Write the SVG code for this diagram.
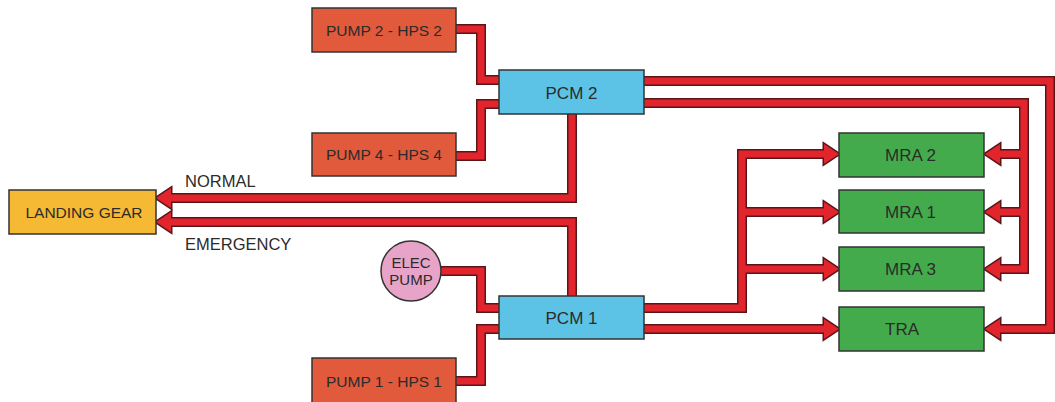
<svg xmlns="http://www.w3.org/2000/svg" width="1055" height="402" viewBox="0 0 1055 402">
<style>
.o{fill:none;stroke:#5a1518;stroke-width:10;stroke-linejoin:miter}
.f{fill:none;stroke:#e2252c;stroke-width:7;stroke-linejoin:miter}
.o .a{marker-end:url(#ao)}
.f .a{marker-end:url(#af)}
.box{stroke:#333;stroke-width:1.5}
.pump{fill:#e15a3b}
.pcm{fill:#5cc3e6}
.mra{fill:#43ab4b}
.lg{fill:#f6b934}
.elec{fill:#e7a4c8}
text{font-family:"Liberation Sans",Arial,sans-serif;fill:#2b2b2b}
.t{font-size:15.5px;text-anchor:middle}
.tl{font-size:17px;text-anchor:middle}
.tg{font-size:17px}
.lab{font-size:16.5px}
</style>
<defs>
<marker id="ao" markerUnits="userSpaceOnUse" viewBox="-5 -15 25 30" refX="0" refY="0" markerWidth="25" markerHeight="30" orient="auto" overflow="visible">
<polygon points="0,-10 15,0 0,10" fill="#5a1518" stroke="#5a1518" stroke-width="3"/>
</marker>
<marker id="af" markerUnits="userSpaceOnUse" viewBox="-5 -15 25 30" refX="0" refY="0" markerWidth="25" markerHeight="30" orient="auto" overflow="visible">
<polygon points="0,-10 15,0 0,10" fill="#e2252c"/>
</marker>
</defs>
<g id="connectors">
<g class="o">
<path d="M456,29 H481 V80 H500"/>
<path d="M456,156 H481 V104 H500"/>
<path class="a" d="M572,113 V198 H171"/>
<path class="a" d="M572,297 V222 H171"/>
<path d="M440,271 H481 V308 H500"/>
<path d="M456,381 H481 V329 H500"/>
<path class="a" d="M643,81 H1050 V329 H1000"/>
<path class="a" d="M643,103 H1024 V269 H1000"/>
<path class="a" d="M1024,154 H1000"/>
<path class="a" d="M1024,212 H1000"/>
<path class="a" d="M643,308 H742 V154 H824"/>
<path class="a" d="M742,212 H824"/>
<path class="a" d="M742,269 H824"/>
<path class="a" d="M643,329 H824"/>
</g>
<g class="f">
<path d="M456,29 H481 V80 H500"/>
<path d="M456,156 H481 V104 H500"/>
<path class="a" d="M572,113 V198 H171"/>
<path class="a" d="M572,297 V222 H171"/>
<path d="M440,271 H481 V308 H500"/>
<path d="M456,381 H481 V329 H500"/>
<path class="a" d="M643,81 H1050 V329 H1000"/>
<path class="a" d="M643,103 H1024 V269 H1000"/>
<path class="a" d="M1024,154 H1000"/>
<path class="a" d="M1024,212 H1000"/>
<path class="a" d="M643,308 H742 V154 H824"/>
<path class="a" d="M742,212 H824"/>
<path class="a" d="M742,269 H824"/>
<path class="a" d="M643,329 H824"/>
</g>
</g>
<g id="pump2"><rect class="box pump" x="312" y="8" width="144" height="44"/><text class="t" x="384" y="36">PUMP 2 - HPS 2</text></g>
<g id="pump4"><rect class="box pump" x="312" y="133" width="144" height="43"/><text class="t" x="384" y="160">PUMP 4 - HPS 4</text></g>
<g id="pump1"><rect class="box pump" x="312" y="358" width="144" height="46"/><text class="t" x="384" y="387">PUMP 1 - HPS 1</text></g>
<g id="pcm2"><rect class="box pcm" x="499" y="70" width="145" height="44"/><text class="tl" x="571.5" y="99">PCM 2</text></g>
<g id="pcm1"><rect class="box pcm" x="499" y="296" width="145" height="43"/><text class="tl" x="571.5" y="324">PCM 1</text></g>
<g id="landing-gear"><rect class="box lg" x="9" y="190" width="147" height="44"/><text class="t" x="84" y="217.5">LANDING GEAR</text></g>
<g id="elec-pump"><circle class="box elec" cx="411" cy="271" r="30"/><text class="t" x="411" y="268" style="font-size:15px">ELEC</text><text class="t" x="411" y="285" style="font-size:15px">PUMP</text></g>
<g id="mra2"><rect class="box mra" x="839" y="133" width="145" height="44"/><text class="tg" x="885" y="161">MRA 2</text></g>
<g id="mra1"><rect class="box mra" x="839" y="190" width="145" height="43"/><text class="tg" x="885" y="218">MRA 1</text></g>
<g id="mra3"><rect class="box mra" x="839" y="247" width="145" height="44"/><text class="tg" x="885" y="275">MRA 3</text></g>
<g id="tra"><rect class="box mra" x="839" y="307" width="145" height="44"/><text class="tg" x="885" y="335">TRA</text></g>
<text class="lab" x="185" y="187">NORMAL</text>
<text class="lab" x="185" y="250">EMERGENCY</text>
</svg>
